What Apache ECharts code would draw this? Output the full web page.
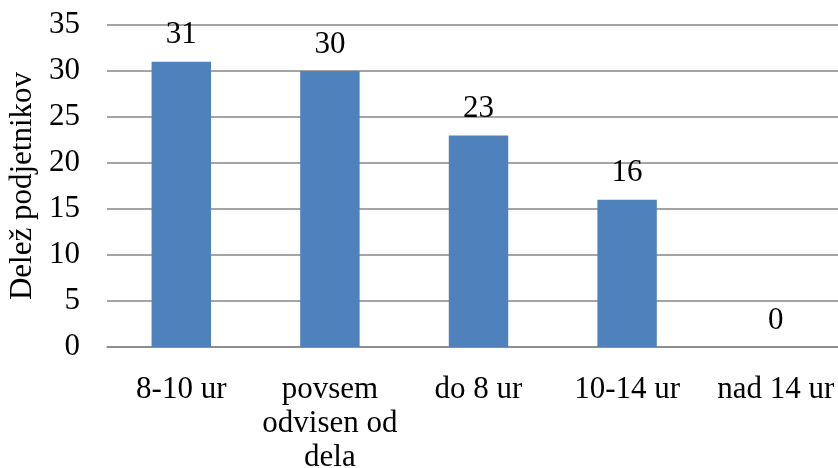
<!DOCTYPE html>
<html><head><meta charset="utf-8">
<script src="https://cdn.jsdelivr.net/npm/echarts@6/dist/echarts.min.js"></script>
<style>html,body{margin:0;padding:0;background:#fff}#c{width:838px;height:468px}</style>
</head><body><div id="c"></div>
<script>
const categories = ['8-10 ur', 'povsem\nodvisen od\ndela', 'do 8 ur', '10-14 ur', 'nad 14 ur'];
const values = [31, 30, 23, 16, 0];
const yTicks = {min: 0, max: 35, interval: 5};
const yName = 'Delež podjetnikov';
const font = '"Liberation Serif", "Times New Roman", serif';
const chart = echarts.init(document.getElementById('c'));
chart.setOption({
  animation: false,
  grid: {left: 107, right: -12, top: 25, bottom: 121, outerBoundsMode: 'none', containLabel: false},
  xAxis: {
    type: 'category', data: categories,
    axisLine: {lineStyle: {color: '#868686', width: 1.5}},
    axisTick: {show: false},
    axisLabel: {color: '#000', fontFamily: font, fontSize: 31, lineHeight: 34, margin: 26, interval: 0}
  },
  yAxis: {
    type: 'value', min: yTicks.min, max: yTicks.max, interval: yTicks.interval,
    name: yName, nameLocation: 'middle', nameGap: 68, nameRotate: 90,
    nameTextStyle: {color: '#000', fontFamily: font, fontSize: 31},
    axisLine: {show: false}, axisTick: {show: false},
    axisLabel: {color: '#000', fontFamily: font, fontSize: 31, margin: 27},
    splitLine: {lineStyle: {color: '#868686', width: 1.5}}
  },
  series: [{
    type: 'bar', data: values, barWidth: '40%',
    itemStyle: {color: '#4F81BD'},
    label: {show: true, position: 'top', distance: 11, color: '#000', fontFamily: font, fontSize: 31}
  }]
});
</script></body></html>
